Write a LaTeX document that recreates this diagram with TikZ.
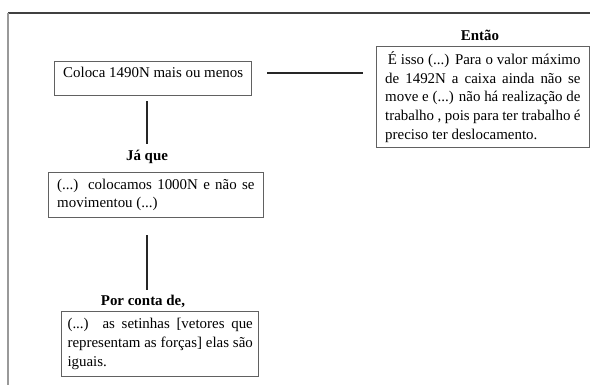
\documentclass[tikz,border=0pt]{standalone}
\usepackage{fontspec}
\setmainfont{Liberation Serif}
\usepackage{tikz}
\usetikzlibrary{positioning,calc}

\begin{document}
\begin{tikzpicture}[x=0.75pt,y=-0.75pt,
    font=\fontsize{11.2}{14}\selectfont,
    caixa/.style={draw=black!62, line width=0.8pt, anchor=north west, align=justify, inner xsep=6.5pt, inner ysep=3pt},
    rotulo/.style={font=\fontsize{11.2}{14}\selectfont\bfseries},
    liga/.style={draw=black!85, line width=1.3pt}]
    \useasboundingbox (0,0) rectangle (591,385);

    % moldura
    \draw[black!75, line width=1pt] (8,13) -- (590,13);
    \draw[black!40, line width=1.5pt] (8,13) -- (8,385);

    % caixas de texto
    \node[caixa, align=center, text depth=9.5pt, inner ysep=4pt, minimum width=144.75pt] (coloca) at (54,61) {Coloca 1490N mais ou menos};
    \node[caixa, text width=146.5pt, minimum height=75.75pt] (entao) at (376,46) {\hspace{2pt}É isso (...) Para o valor máximo \linebreak de 1492N a caixa ainda não se \linebreak move e (...) não há realização de \linebreak trabalho , pois para ter trabalho é \linebreak preciso ter deslocamento.};
    \node[caixa, text width=148pt, minimum height=33.75pt] (colocamos) at (48,172) {(...) colocamos 1000N e não se \linebreak movimentou (...)};
    \node[caixa, inner xsep=4.5pt, text width=139pt, minimum height=48.75pt] (setinhas) at (61,311) {(...) as setinhas [vetores que \linebreak representam as forças] elas são \linebreak iguais.};

    % rotulos
    \node[rotulo] (rentao) at (480,35) {Então};
    \node[rotulo] (rjaque) at (147,157) {Já que};
    \node[rotulo] (rporconta) at (143,301) {Por conta de,};

    % ligacoes
    \draw[liga, shorten <=11pt, shorten >=10pt] ([yshift=4pt]coloca.east) -- ([yshift=4pt]coloca.east -| entao.west);
    \draw[liga, shorten <=4pt, shorten >=1pt] (coloca.south -| rjaque) -- (rjaque.north);
    \draw[liga, shorten <=12.75pt] (colocamos.south -| rjaque) -- (rporconta.north -| rjaque);

\end{tikzpicture}
\end{document}
